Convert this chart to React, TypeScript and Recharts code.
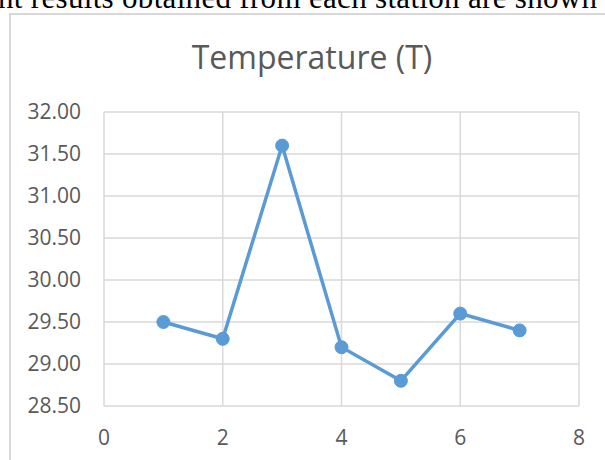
import React from "react";
import { LineChart, Line, XAxis, YAxis, CartesianGrid } from "recharts";

// Station number and measured temperature at each station
const stations = [1, 2, 3, 4, 5, 6, 7];
const temperatures = [29.5, 29.3, 31.6, 29.2, 28.8, 29.6, 29.4];

const xTicks = [0, 2, 4, 6, 8];
const yTicks = [28.5, 29.0, 29.5, 30.0, 30.5, 31.0, 31.5, 32.0];

const data = stations.map((s, i) => ({ station: s, temperature: temperatures[i] }));

const GRID = "#d9d9d9";
const TEXT = "#595959";
const BLUE = "#5b9bd5";
const FONT = "'Open Sans', 'Noto Sans', sans-serif";

export default function App() {
  return (
    <div
      style={{
        position: "absolute",
        left: 0,
        top: 0,
        width: 605,
        height: 460,
        overflow: "hidden",
        background: "#ffffff",
      }}
    >
      {/* surrounding document text and chart frame */}
      <svg
        width={605}
        height={460}
        style={{ position: "absolute", left: 0, top: 0 }}
      >
        <text
          x={-2}
          y={8}
          fontFamily="'Liberation Serif', 'Times New Roman', serif"
          fontSize={31}
          fill="#000000"
          textLength={599}
          lengthAdjust="spacing"
        >
          nt results obtained from each station are shown
        </text>
        <rect
          x={10}
          y={14}
          width={620}
          height={480}
          fill="none"
          stroke={GRID}
          strokeWidth={2}
        />
        <text
          x={312}
          y={69}
          textAnchor="middle"
          fontFamily={FONT}
          fontSize={32}
          fill={TEXT}
        >
          Temperature (T)
        </text>
      </svg>
      <div style={{ position: "absolute", left: 0, top: 0 }}>
        <LineChart
          width={605}
          height={460}
          data={data}
          margin={{ top: 112, right: 26, bottom: 0, left: 0 }}
        >
          <CartesianGrid stroke={GRID} strokeWidth={1.5} />
          <XAxis
            dataKey="station"
            type="number"
            domain={[0, 8]}
            ticks={xTicks}
            axisLine={false}
            tickLine={false}
            tickSize={0}
            tickMargin={24}
            height={54}
            tick={{ fill: TEXT, fontSize: 21, fontFamily: FONT }}
          />
          <YAxis
            type="number"
            domain={[28.5, 32]}
            ticks={yTicks}
            width={104}
            axisLine={false}
            tickLine={false}
            tickSize={0}
            tickMargin={23}
            tickFormatter={(v: number) => v.toFixed(2)}
            tick={{ fill: TEXT, fontSize: 21, fontFamily: FONT }}
          />
          <Line
            dataKey="temperature"
            stroke={BLUE}
            strokeWidth={3.5}
            dot={{ r: 6.5, fill: BLUE, stroke: BLUE, strokeWidth: 1 }}
            isAnimationActive={false}
          />
        </LineChart>
      </div>
    </div>
  );
}
